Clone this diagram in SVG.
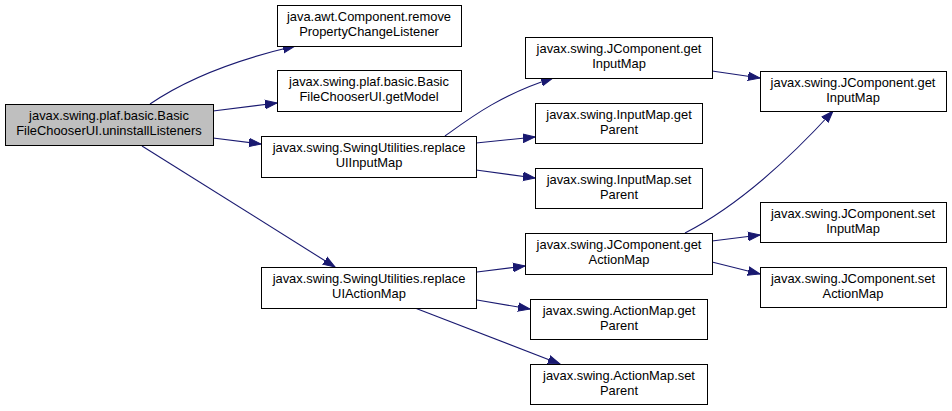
<svg xmlns="http://www.w3.org/2000/svg" width="952" height="411" viewBox="0 0 952 411">
<defs>
<marker id="ah" markerUnits="userSpaceOnUse" markerWidth="14" markerHeight="12" refX="12" refY="6" orient="auto" viewBox="0 0 14 12">
<path d="M0,1.8 L12,6 L0,10.2 z" fill="#191970" stroke="#191970"/>
</marker>
<style>
.n rect{fill:#ffffff;stroke:#000000;stroke-width:1}
.n.main rect{fill:#bfbfbf}
.n text{font-family:"Liberation Sans",Arial,sans-serif;font-size:12.9px;fill:#000000;text-anchor:middle}
#edges path{fill:none;stroke:#191970;stroke-width:1.1;marker-end:url(#ah)}
</style>
</defs>
<rect width="952" height="411" fill="#ffffff"/>
<g id="edges">
<path d="M150,104 C185,80 235,60 295,46"/>
<path d="M213,111 L277,103"/>
<path d="M213,138 L261,144"/>
<path d="M142,146 L335,267"/>
<path d="M445,136 C470,118 500,95 553,78"/>
<path d="M476,143 L535,137"/>
<path d="M476,170 L535,178"/>
<path d="M712,71 L760,78"/>
<path d="M685,233 C720,215 770,180 833,111"/>
<path d="M477,272 L525,266"/>
<path d="M712,241 L760,235"/>
<path d="M712,262 L760,274"/>
<path d="M477,300 L530,309"/>
<path d="M415,308 L560,364"/>
</g>
<g id="n_main" class="n main"><rect x="5.5" y="104.5" width="208" height="41"/><text x="109" y="120">javax.swing.plaf.basic.Basic</text><text x="109" y="135">FileChooserUI.uninstallListeners</text></g>
<g id="n_remove" class="n"><rect x="277.5" y="5.5" width="184" height="41"/><text x="369" y="21">java.awt.Component.remove</text><text x="369" y="36">PropertyChangeListener</text></g>
<g id="n_getModel" class="n"><rect x="277.5" y="70.5" width="184" height="41"/><text x="369" y="86">javax.swing.plaf.basic.Basic</text><text x="369" y="101">FileChooserUI.getModel</text></g>
<g id="n_replaceInput" class="n"><rect x="261.5" y="136.5" width="215" height="41"/><text x="369" y="152">javax.swing.SwingUtilities.replace</text><text x="369" y="167">UIInputMap</text></g>
<g id="n_replaceAction" class="n"><rect x="261.5" y="267.5" width="215" height="41"/><text x="369" y="283">javax.swing.SwingUtilities.replace</text><text x="369" y="298">UIActionMap</text></g>
<g id="n_getInputMap1" class="n"><rect x="525.5" y="37.5" width="187" height="41"/><text x="619" y="53">javax.swing.JComponent.get</text><text x="619" y="68">InputMap</text></g>
<g id="n_imGetParent" class="n"><rect x="535.5" y="103.5" width="167" height="40"/><text x="619" y="119">javax.swing.InputMap.get</text><text x="619" y="134">Parent</text></g>
<g id="n_imSetParent" class="n"><rect x="535.5" y="168.5" width="167" height="40"/><text x="619" y="184">javax.swing.InputMap.set</text><text x="619" y="199">Parent</text></g>
<g id="n_getActionMap" class="n"><rect x="525.5" y="233.5" width="187" height="41"/><text x="619" y="249">javax.swing.JComponent.get</text><text x="619" y="264">ActionMap</text></g>
<g id="n_amGetParent" class="n"><rect x="530.5" y="299.5" width="177" height="40"/><text x="619" y="315">javax.swing.ActionMap.get</text><text x="619" y="330">Parent</text></g>
<g id="n_amSetParent" class="n"><rect x="530.5" y="364.5" width="177" height="40"/><text x="619" y="380">javax.swing.ActionMap.set</text><text x="619" y="395">Parent</text></g>
<g id="n_getInputMap2" class="n"><rect x="760.5" y="71.5" width="186" height="40"/><text x="853" y="87">javax.swing.JComponent.get</text><text x="853" y="102">InputMap</text></g>
<g id="n_setInputMap" class="n"><rect x="760.5" y="202.5" width="186" height="40"/><text x="853" y="218">javax.swing.JComponent.set</text><text x="853" y="233">InputMap</text></g>
<g id="n_setActionMap" class="n"><rect x="760.5" y="267.5" width="186" height="40"/><text x="853" y="283">javax.swing.JComponent.set</text><text x="853" y="298">ActionMap</text></g>
</svg>
